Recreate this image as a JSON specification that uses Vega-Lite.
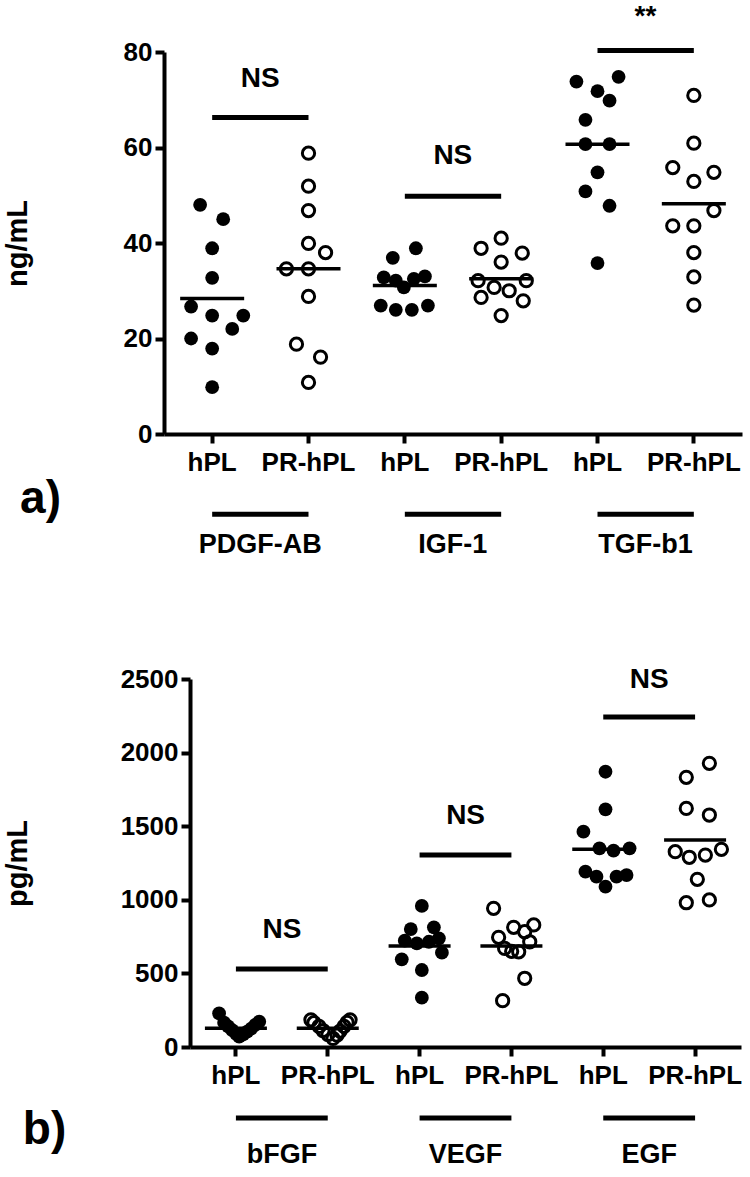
{
  "$schema": "https://vega.github.io/schema/vega-lite/v6.json",
  "background": "white",
  "padding": {"left": 3, "top": 3, "right": 6, "bottom": 4},
  "columns": 1,
  "align": "none",
  "spacing": 108,
  "config": {
    "font": "Liberation Sans",
    "view": {"stroke": null},
    "axis": {
      "grid": false,
      "domainColor": "black",
      "domainWidth": 4,
      "tickColor": "black",
      "tickWidth": 4,
      "tickSize": 9,
      "labelFont": "Liberation Sans",
      "labelFontWeight": "bold",
      "labelColor": "black",
      "titleFont": "Liberation Sans",
      "titleFontWeight": "bold",
      "titleColor": "black"
    },
    "text": {"font": "Liberation Sans", "fontWeight": "bold", "color": "black"}
  },
  "datasets": {
    "top": [
      {"cat": "PDGF-AB|hPL", "type": "hPL", "jitter": -12, "v": 48.0},
      {"cat": "PDGF-AB|hPL", "type": "hPL", "jitter": 11, "v": 45.0},
      {"cat": "PDGF-AB|hPL", "type": "hPL", "jitter": 0, "v": 38.9},
      {"cat": "PDGF-AB|hPL", "type": "hPL", "jitter": 0, "v": 32.7},
      {"cat": "PDGF-AB|hPL", "type": "hPL", "jitter": -21, "v": 26.7},
      {"cat": "PDGF-AB|hPL", "type": "hPL", "jitter": 0, "v": 24.8},
      {"cat": "PDGF-AB|hPL", "type": "hPL", "jitter": 31, "v": 24.8},
      {"cat": "PDGF-AB|hPL", "type": "hPL", "jitter": 20, "v": 22.0},
      {"cat": "PDGF-AB|hPL", "type": "hPL", "jitter": -21, "v": 20.0},
      {"cat": "PDGF-AB|hPL", "type": "hPL", "jitter": 0, "v": 17.9},
      {"cat": "PDGF-AB|hPL", "type": "hPL", "jitter": 0, "v": 9.8},
      {"cat": "PDGF-AB|PR-hPL", "type": "PR-hPL", "jitter": 0, "v": 58.8},
      {"cat": "PDGF-AB|PR-hPL", "type": "PR-hPL", "jitter": 0, "v": 51.9},
      {"cat": "PDGF-AB|PR-hPL", "type": "PR-hPL", "jitter": 0, "v": 46.8},
      {"cat": "PDGF-AB|PR-hPL", "type": "PR-hPL", "jitter": 0, "v": 39.9},
      {"cat": "PDGF-AB|PR-hPL", "type": "PR-hPL", "jitter": 17, "v": 38.0},
      {"cat": "PDGF-AB|PR-hPL", "type": "PR-hPL", "jitter": -22, "v": 34.6},
      {"cat": "PDGF-AB|PR-hPL", "type": "PR-hPL", "jitter": 0, "v": 34.6},
      {"cat": "PDGF-AB|PR-hPL", "type": "PR-hPL", "jitter": 0, "v": 28.8},
      {"cat": "PDGF-AB|PR-hPL", "type": "PR-hPL", "jitter": -12, "v": 18.8},
      {"cat": "PDGF-AB|PR-hPL", "type": "PR-hPL", "jitter": 12, "v": 16.1},
      {"cat": "PDGF-AB|PR-hPL", "type": "PR-hPL", "jitter": 0, "v": 10.8},
      {"cat": "IGF-1|hPL", "type": "hPL", "jitter": -12, "v": 36.9},
      {"cat": "IGF-1|hPL", "type": "hPL", "jitter": 11, "v": 38.9},
      {"cat": "IGF-1|hPL", "type": "hPL", "jitter": -21, "v": 32.8},
      {"cat": "IGF-1|hPL", "type": "hPL", "jitter": -9, "v": 32.1},
      {"cat": "IGF-1|hPL", "type": "hPL", "jitter": -1, "v": 30.7},
      {"cat": "IGF-1|hPL", "type": "hPL", "jitter": 9, "v": 32.5},
      {"cat": "IGF-1|hPL", "type": "hPL", "jitter": 20, "v": 33.0},
      {"cat": "IGF-1|hPL", "type": "hPL", "jitter": -24, "v": 26.9},
      {"cat": "IGF-1|hPL", "type": "hPL", "jitter": -9, "v": 26.0},
      {"cat": "IGF-1|hPL", "type": "hPL", "jitter": 7, "v": 26.0},
      {"cat": "IGF-1|hPL", "type": "hPL", "jitter": 23, "v": 26.9},
      {"cat": "IGF-1|PR-hPL", "type": "PR-hPL", "jitter": 0, "v": 41.0},
      {"cat": "IGF-1|PR-hPL", "type": "PR-hPL", "jitter": -20, "v": 38.9},
      {"cat": "IGF-1|PR-hPL", "type": "PR-hPL", "jitter": 21, "v": 37.9},
      {"cat": "IGF-1|PR-hPL", "type": "PR-hPL", "jitter": 0, "v": 36.0},
      {"cat": "IGF-1|PR-hPL", "type": "PR-hPL", "jitter": -23, "v": 32.1},
      {"cat": "IGF-1|PR-hPL", "type": "PR-hPL", "jitter": 25, "v": 32.1},
      {"cat": "IGF-1|PR-hPL", "type": "PR-hPL", "jitter": -7, "v": 30.7},
      {"cat": "IGF-1|PR-hPL", "type": "PR-hPL", "jitter": 8, "v": 30.0},
      {"cat": "IGF-1|PR-hPL", "type": "PR-hPL", "jitter": -20, "v": 28.6},
      {"cat": "IGF-1|PR-hPL", "type": "PR-hPL", "jitter": 22, "v": 27.9},
      {"cat": "IGF-1|PR-hPL", "type": "PR-hPL", "jitter": 0, "v": 24.8},
      {"cat": "TGF-b1|hPL", "type": "hPL", "jitter": -21, "v": 73.8},
      {"cat": "TGF-b1|hPL", "type": "hPL", "jitter": 21, "v": 74.8},
      {"cat": "TGF-b1|hPL", "type": "hPL", "jitter": 0, "v": 71.8},
      {"cat": "TGF-b1|hPL", "type": "hPL", "jitter": 12, "v": 69.8},
      {"cat": "TGF-b1|hPL", "type": "hPL", "jitter": -12, "v": 65.8},
      {"cat": "TGF-b1|hPL", "type": "hPL", "jitter": -12, "v": 60.7},
      {"cat": "TGF-b1|hPL", "type": "hPL", "jitter": 12, "v": 60.7},
      {"cat": "TGF-b1|hPL", "type": "hPL", "jitter": 0, "v": 54.8},
      {"cat": "TGF-b1|hPL", "type": "hPL", "jitter": -12, "v": 50.8},
      {"cat": "TGF-b1|hPL", "type": "hPL", "jitter": 12, "v": 47.8},
      {"cat": "TGF-b1|hPL", "type": "hPL", "jitter": 0, "v": 35.8},
      {"cat": "TGF-b1|PR-hPL", "type": "PR-hPL", "jitter": 0, "v": 70.9},
      {"cat": "TGF-b1|PR-hPL", "type": "PR-hPL", "jitter": 0, "v": 60.9},
      {"cat": "TGF-b1|PR-hPL", "type": "PR-hPL", "jitter": -21, "v": 55.8},
      {"cat": "TGF-b1|PR-hPL", "type": "PR-hPL", "jitter": 20, "v": 54.8},
      {"cat": "TGF-b1|PR-hPL", "type": "PR-hPL", "jitter": 0, "v": 52.9},
      {"cat": "TGF-b1|PR-hPL", "type": "PR-hPL", "jitter": 20, "v": 46.8},
      {"cat": "TGF-b1|PR-hPL", "type": "PR-hPL", "jitter": -21, "v": 43.6},
      {"cat": "TGF-b1|PR-hPL", "type": "PR-hPL", "jitter": 0, "v": 43.6},
      {"cat": "TGF-b1|PR-hPL", "type": "PR-hPL", "jitter": 0, "v": 38.0},
      {"cat": "TGF-b1|PR-hPL", "type": "PR-hPL", "jitter": 0, "v": 32.9},
      {"cat": "TGF-b1|PR-hPL", "type": "PR-hPL", "jitter": 0, "v": 27.0}
    ],
    "topMeans": [
      {"cat": "PDGF-AB|hPL", "mean": 28.4},
      {"cat": "PDGF-AB|PR-hPL", "mean": 34.6},
      {"cat": "IGF-1|hPL", "mean": 31.1},
      {"cat": "IGF-1|PR-hPL", "mean": 32.5},
      {"cat": "TGF-b1|hPL", "mean": 60.7},
      {"cat": "TGF-b1|PR-hPL", "mean": 48.2}
    ],
    "topSig": [
      {"cat": "PDGF-AB|hPL", "cat2": "PDGF-AB|PR-hPL", "bar": 66.3, "labely": 74.3, "label": "NS"},
      {"cat": "IGF-1|hPL", "cat2": "IGF-1|PR-hPL", "bar": 49.8, "labely": 58.3, "label": "NS"},
      {"cat": "TGF-b1|hPL", "cat2": "TGF-b1|PR-hPL", "bar": 80.3, "labely": 87.3, "label": "**"}
    ],
    "topGroups": [
      {"cat": "PDGF-AB|hPL", "cat2": "PDGF-AB|PR-hPL", "line": -16.8, "labely": -23.2, "group": "PDGF-AB"},
      {"cat": "IGF-1|hPL", "cat2": "IGF-1|PR-hPL", "line": -16.8, "labely": -23.2, "group": "IGF-1"},
      {"cat": "TGF-b1|hPL", "cat2": "TGF-b1|PR-hPL", "line": -16.8, "labely": -23.2, "group": "TGF-b1"}
    ],
    "bottom": [
      {"cat": "bFGF|hPL", "type": "hPL", "jitter": -19, "v": 229},
      {"cat": "bFGF|hPL", "type": "hPL", "jitter": -14, "v": 165},
      {"cat": "bFGF|hPL", "type": "hPL", "jitter": -10, "v": 140},
      {"cat": "bFGF|hPL", "type": "hPL", "jitter": -6, "v": 115},
      {"cat": "bFGF|hPL", "type": "hPL", "jitter": -2, "v": 90},
      {"cat": "bFGF|hPL", "type": "hPL", "jitter": 1, "v": 70},
      {"cat": "bFGF|hPL", "type": "hPL", "jitter": 5, "v": 85},
      {"cat": "bFGF|hPL", "type": "hPL", "jitter": 9, "v": 105},
      {"cat": "bFGF|hPL", "type": "hPL", "jitter": 13, "v": 125},
      {"cat": "bFGF|hPL", "type": "hPL", "jitter": 17, "v": 150},
      {"cat": "bFGF|hPL", "type": "hPL", "jitter": 21, "v": 172},
      {"cat": "bFGF|PR-hPL", "type": "PR-hPL", "jitter": -19, "v": 185},
      {"cat": "bFGF|PR-hPL", "type": "PR-hPL", "jitter": -16, "v": 165},
      {"cat": "bFGF|PR-hPL", "type": "PR-hPL", "jitter": -11, "v": 140},
      {"cat": "bFGF|PR-hPL", "type": "PR-hPL", "jitter": -7, "v": 112},
      {"cat": "bFGF|PR-hPL", "type": "PR-hPL", "jitter": -2, "v": 85},
      {"cat": "bFGF|PR-hPL", "type": "PR-hPL", "jitter": 3, "v": 58},
      {"cat": "bFGF|PR-hPL", "type": "PR-hPL", "jitter": 7, "v": 80},
      {"cat": "bFGF|PR-hPL", "type": "PR-hPL", "jitter": 10, "v": 108},
      {"cat": "bFGF|PR-hPL", "type": "PR-hPL", "jitter": 14, "v": 140},
      {"cat": "bFGF|PR-hPL", "type": "PR-hPL", "jitter": 17, "v": 168},
      {"cat": "bFGF|PR-hPL", "type": "PR-hPL", "jitter": 20, "v": 185},
      {"cat": "VEGF|hPL", "type": "hPL", "jitter": 0, "v": 958},
      {"cat": "VEGF|hPL", "type": "hPL", "jitter": -11, "v": 801},
      {"cat": "VEGF|hPL", "type": "hPL", "jitter": 12, "v": 813},
      {"cat": "VEGF|hPL", "type": "hPL", "jitter": -17, "v": 722},
      {"cat": "VEGF|hPL", "type": "hPL", "jitter": -5, "v": 704},
      {"cat": "VEGF|hPL", "type": "hPL", "jitter": 7, "v": 715},
      {"cat": "VEGF|hPL", "type": "hPL", "jitter": 17, "v": 738},
      {"cat": "VEGF|hPL", "type": "hPL", "jitter": -20, "v": 596},
      {"cat": "VEGF|hPL", "type": "hPL", "jitter": 20, "v": 641},
      {"cat": "VEGF|hPL", "type": "hPL", "jitter": 0, "v": 523},
      {"cat": "VEGF|hPL", "type": "hPL", "jitter": 0, "v": 335},
      {"cat": "VEGF|PR-hPL", "type": "PR-hPL", "jitter": -20, "v": 942},
      {"cat": "VEGF|PR-hPL", "type": "PR-hPL", "jitter": 20, "v": 829},
      {"cat": "VEGF|PR-hPL", "type": "PR-hPL", "jitter": 0, "v": 813},
      {"cat": "VEGF|PR-hPL", "type": "PR-hPL", "jitter": -15, "v": 745},
      {"cat": "VEGF|PR-hPL", "type": "PR-hPL", "jitter": 11, "v": 783},
      {"cat": "VEGF|PR-hPL", "type": "PR-hPL", "jitter": -9, "v": 670},
      {"cat": "VEGF|PR-hPL", "type": "PR-hPL", "jitter": 5, "v": 647},
      {"cat": "VEGF|PR-hPL", "type": "PR-hPL", "jitter": 16, "v": 715},
      {"cat": "VEGF|PR-hPL", "type": "PR-hPL", "jitter": -2, "v": 650},
      {"cat": "VEGF|PR-hPL", "type": "PR-hPL", "jitter": 11, "v": 467},
      {"cat": "VEGF|PR-hPL", "type": "PR-hPL", "jitter": -11, "v": 315},
      {"cat": "EGF|hPL", "type": "hPL", "jitter": 0, "v": 1870},
      {"cat": "EGF|hPL", "type": "hPL", "jitter": 0, "v": 1615},
      {"cat": "EGF|hPL", "type": "hPL", "jitter": -22, "v": 1463},
      {"cat": "EGF|hPL", "type": "hPL", "jitter": -6, "v": 1350},
      {"cat": "EGF|hPL", "type": "hPL", "jitter": 8, "v": 1334},
      {"cat": "EGF|hPL", "type": "hPL", "jitter": 24, "v": 1350},
      {"cat": "EGF|hPL", "type": "hPL", "jitter": -20, "v": 1191},
      {"cat": "EGF|hPL", "type": "hPL", "jitter": -9, "v": 1157},
      {"cat": "EGF|hPL", "type": "hPL", "jitter": 11, "v": 1157},
      {"cat": "EGF|hPL", "type": "hPL", "jitter": 21, "v": 1168},
      {"cat": "EGF|hPL", "type": "hPL", "jitter": 0, "v": 1089},
      {"cat": "EGF|PR-hPL", "type": "PR-hPL", "jitter": 12, "v": 1927},
      {"cat": "EGF|PR-hPL", "type": "PR-hPL", "jitter": -11, "v": 1832},
      {"cat": "EGF|PR-hPL", "type": "PR-hPL", "jitter": -11, "v": 1621},
      {"cat": "EGF|PR-hPL", "type": "PR-hPL", "jitter": 12, "v": 1576},
      {"cat": "EGF|PR-hPL", "type": "PR-hPL", "jitter": -22, "v": 1327},
      {"cat": "EGF|PR-hPL", "type": "PR-hPL", "jitter": -8, "v": 1289},
      {"cat": "EGF|PR-hPL", "type": "PR-hPL", "jitter": 8, "v": 1304},
      {"cat": "EGF|PR-hPL", "type": "PR-hPL", "jitter": 24, "v": 1343},
      {"cat": "EGF|PR-hPL", "type": "PR-hPL", "jitter": 0, "v": 1139},
      {"cat": "EGF|PR-hPL", "type": "PR-hPL", "jitter": -11, "v": 980},
      {"cat": "EGF|PR-hPL", "type": "PR-hPL", "jitter": 12, "v": 999}
    ],
    "bottomMeans": [
      {"cat": "bFGF|hPL", "mean": 127},
      {"cat": "bFGF|PR-hPL", "mean": 127},
      {"cat": "VEGF|hPL", "mean": 686},
      {"cat": "VEGF|PR-hPL", "mean": 686},
      {"cat": "EGF|hPL", "mean": 1343},
      {"cat": "EGF|PR-hPL", "mean": 1406}
    ],
    "bottomSig": [
      {"cat": "bFGF|hPL", "cat2": "bFGF|PR-hPL", "bar": 530, "labely": 795, "label": "NS"},
      {"cat": "VEGF|hPL", "cat2": "VEGF|PR-hPL", "bar": 1304, "labely": 1569, "label": "NS"},
      {"cat": "EGF|hPL", "cat2": "EGF|PR-hPL", "bar": 2242, "labely": 2493, "label": "NS"}
    ],
    "bottomGroups": [
      {"cat": "bFGF|hPL", "cat2": "bFGF|PR-hPL", "line": -482, "labely": -734, "group": "bFGF"},
      {"cat": "VEGF|hPL", "cat2": "VEGF|PR-hPL", "line": -482, "labely": -734, "group": "VEGF"},
      {"cat": "EGF|hPL", "cat2": "EGF|PR-hPL", "line": -482, "labely": -734, "group": "EGF"}
    ]
  },
  "concat": [
    {
      "width": 578,
      "height": 382,
      "encoding": {
        "x": {
          "field": "cat", "type": "nominal",
          "scale": {"domain": ["PDGF-AB|hPL", "PDGF-AB|PR-hPL", "IGF-1|hPL", "IGF-1|PR-hPL", "TGF-b1|hPL", "TGF-b1|PR-hPL"], "paddingInner": 0, "paddingOuter": 0},
          "axis": {
            "labelExpr": "split(datum.label, '|')[1]",
            "labelAngle": 0, "labelFontSize": 26, "labelPadding": 6,
            "title": "a)", "titleFontSize": 46, "titleAnchor": "start", "titleAlign": "center",
            "titleX": -124, "titleY": 64, "titleBaseline": "middle"
          }
        },
        "y": {
          "type": "quantitative",
          "scale": {"domain": [0, 80], "nice": false},
          "axis": {"values": [0, 20, 40, 60, 80], "format": "d", "labelFontSize": 26, "labelPadding": 3, "title": "ng/mL", "titleFontSize": 29, "titlePadding": 91}
        }
      },
      "layer": [
        {
          "data": {"name": "top"},
          "transform": [{"filter": "datum.type === 'hPL'"}],
          "mark": {"type": "point", "shape": "circle", "filled": true, "color": "black", "size": 190, "opacity": 1},
          "encoding": {
            "y": {"field": "v"},
            "xOffset": {"field": "jitter", "type": "quantitative", "scale": {"domain": [-48, 48]}}
          }
        },
        {
          "data": {"name": "top"},
          "transform": [{"filter": "datum.type === 'PR-hPL'"}],
          "mark": {"type": "point", "shape": "circle", "filled": false, "stroke": "black", "strokeWidth": 3, "size": 150, "opacity": 1},
          "encoding": {
            "y": {"field": "v"},
            "xOffset": {"field": "jitter", "type": "quantitative", "scale": {"domain": [-48, 48]}}
          }
        },
        {
          "data": {"name": "topMeans"},
          "mark": {"type": "tick", "color": "black", "size": 64, "thickness": 3.5, "opacity": 1},
          "encoding": {"y": {"field": "mean"}}
        },
        {
          "data": {"name": "topSig"},
          "mark": {"type": "rule", "color": "black", "strokeWidth": 5},
          "encoding": {"y": {"field": "bar"}, "x2": {"field": "cat2"}}
        },
        {
          "data": {"name": "topSig"},
          "mark": {"type": "text", "fontSize": 28, "dx": 48, "baseline": "middle"},
          "encoding": {"y": {"field": "labely"}, "text": {"field": "label"}}
        },
        {
          "data": {"name": "topGroups"},
          "mark": {"type": "rule", "color": "black", "strokeWidth": 5},
          "encoding": {"y": {"field": "line"}, "x2": {"field": "cat2"}}
        },
        {
          "data": {"name": "topGroups"},
          "mark": {"type": "text", "fontSize": 27, "dx": 48, "baseline": "middle"},
          "encoding": {"y": {"field": "labely"}, "text": {"field": "group"}}
        }
      ]
    },
    {
      "width": 577,
      "height": 368,
      "encoding": {
        "x": {
          "field": "cat", "type": "nominal",
          "scale": {"domain": ["bFGF|hPL", "bFGF|PR-hPL", "VEGF|hPL", "VEGF|PR-hPL", "EGF|hPL", "EGF|PR-hPL"], "paddingInner": 0, "paddingOuter": 0, "range": [26, 577]},
          "axis": {
            "labelExpr": "split(datum.label, '|')[1]",
            "labelAngle": 0, "labelFontSize": 26, "labelPadding": 6,
            "title": "b)", "titleFontSize": 46, "titleAnchor": "start", "titleAlign": "center",
            "titleX": -120, "titleY": 82, "titleBaseline": "middle"
          }
        },
        "y": {
          "type": "quantitative",
          "scale": {"domain": [0, 2500], "nice": false},
          "axis": {"values": [0, 500, 1000, 1500, 2000, 2500], "format": "d", "offset": -26, "labelFontSize": 26, "labelPadding": 3, "title": "pg/mL", "titleFontSize": 29, "titlePadding": 88}
        }
      },
      "layer": [
        {
          "data": {"name": "bottom"},
          "transform": [{"filter": "datum.type === 'hPL'"}],
          "mark": {"type": "point", "shape": "circle", "filled": true, "color": "black", "size": 190, "opacity": 1},
          "encoding": {
            "y": {"field": "v"},
            "xOffset": {"field": "jitter", "type": "quantitative", "scale": {"domain": [-46, 46]}}
          }
        },
        {
          "data": {"name": "bottom"},
          "transform": [{"filter": "datum.type === 'PR-hPL'"}],
          "mark": {"type": "point", "shape": "circle", "filled": false, "stroke": "black", "strokeWidth": 3, "size": 150, "opacity": 1},
          "encoding": {
            "y": {"field": "v"},
            "xOffset": {"field": "jitter", "type": "quantitative", "scale": {"domain": [-46, 46]}}
          }
        },
        {
          "data": {"name": "bottomMeans"},
          "mark": {"type": "tick", "color": "black", "size": 62, "thickness": 3.5, "opacity": 1},
          "encoding": {"y": {"field": "mean"}}
        },
        {
          "data": {"name": "bottomSig"},
          "mark": {"type": "rule", "color": "black", "strokeWidth": 5},
          "encoding": {"y": {"field": "bar"}, "x2": {"field": "cat2"}}
        },
        {
          "data": {"name": "bottomSig"},
          "mark": {"type": "text", "fontSize": 28, "dx": 46, "baseline": "middle"},
          "encoding": {"y": {"field": "labely"}, "text": {"field": "label"}}
        },
        {
          "data": {"name": "bottomGroups"},
          "mark": {"type": "rule", "color": "black", "strokeWidth": 5},
          "encoding": {"y": {"field": "line"}, "x2": {"field": "cat2"}}
        },
        {
          "data": {"name": "bottomGroups"},
          "mark": {"type": "text", "fontSize": 27, "dx": 46, "baseline": "middle"},
          "encoding": {"y": {"field": "labely"}, "text": {"field": "group"}}
        }
      ]
    }
  ]
}
